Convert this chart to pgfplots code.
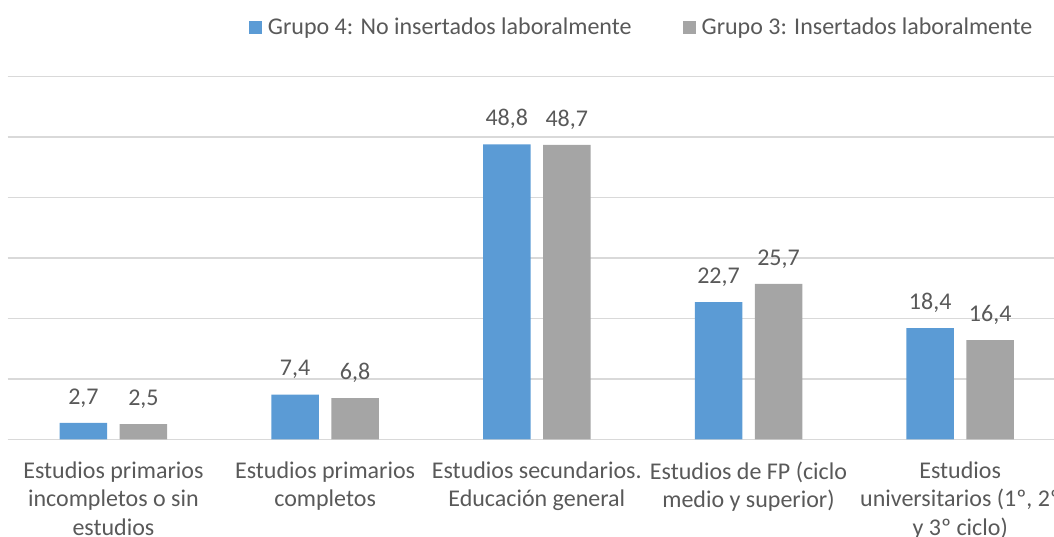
\documentclass[border=0pt]{standalone}
\usepackage{pgfplots}
\pgfplotsset{compat=1.18}
\usepackage{fontspec}
\setmainfont{Carlito}
\definecolor{cblue}{RGB}{91,155,213}
\definecolor{cgray}{RGB}{165,165,165}
\definecolor{ctext}{RGB}{89,89,89}
\definecolor{cgrid}{RGB}{217,217,217}
\newcommand\chartfont{\fontsize{24}{28.5}\selectfont}
\pgfplotsset{mylegend/.style={legend image code/.code={\fill[##1] (0pt,-6.5pt) rectangle (13pt,6.5pt); \path (17pt,0pt);}}}
\begin{document}
\begin{tikzpicture}
\useasboundingbox (0,0) rectangle (1054pt,537pt);
\clip (0,0) rectangle (1054pt,537pt);
\begin{axis}[
 at={(7.6pt,97.7pt)}, anchor=south west,
 scale only axis, width=1058.5pt, height=362.6pt,
 ybar=12.5pt, bar width=47.5pt,
 xmin=-0.5, xmax=4.5, ymin=0, ymax=60,
 xtick={0,1,2,3,4},
 xticklabels={{Estudios primarios\\incompletos o sin\\estudios},{Estudios primarios\\completos},{Estudios secundarios.\\Educación general},{Estudios de FP (ciclo\\medio y superior)},{Estudios\\universitarios (1º, 2º\\y 3º ciclo)}},
 ytick={0,10,...,60}, yticklabels={},
 ymajorgrids, grid style={cgrid, line width=1.3pt},
 axis line style={draw=none},
 major tick length=0pt,
 x tick label style={font=\chartfont, text=ctext, align=center, anchor=north, yshift=-19pt},
 nodes near coords={\pgfmathprintnumber[fixed, fixed zerofill, precision=1, use comma, assume math mode=true]{\pgfplotspointmeta}},
 every node near coord/.append style={font=\chartfont, text=ctext, yshift=12pt},
 legend style={at={(0.599,1.137)}, anchor=center, draw=none, fill=none, font=\chartfont, text=ctext, /tikz/every even column/.append style={column sep=49pt}},
 legend columns=2,
 legend cell align=left,
 clip=false,
]
\addplot[fill=cblue, draw=none, mylegend] coordinates {(0,2.7) (1,7.4) (2,48.8) (3,22.7) (4,18.4)};
\addplot[fill=cgray, draw=none, mylegend] coordinates {(0,2.5) (1,6.8) (2,48.7) (3,25.7) (4,16.4)};
\legend{Grupo 4: No insertados laboralmente, Grupo 3: Insertados laboralmente}
\end{axis}
\end{tikzpicture}
\end{document}
